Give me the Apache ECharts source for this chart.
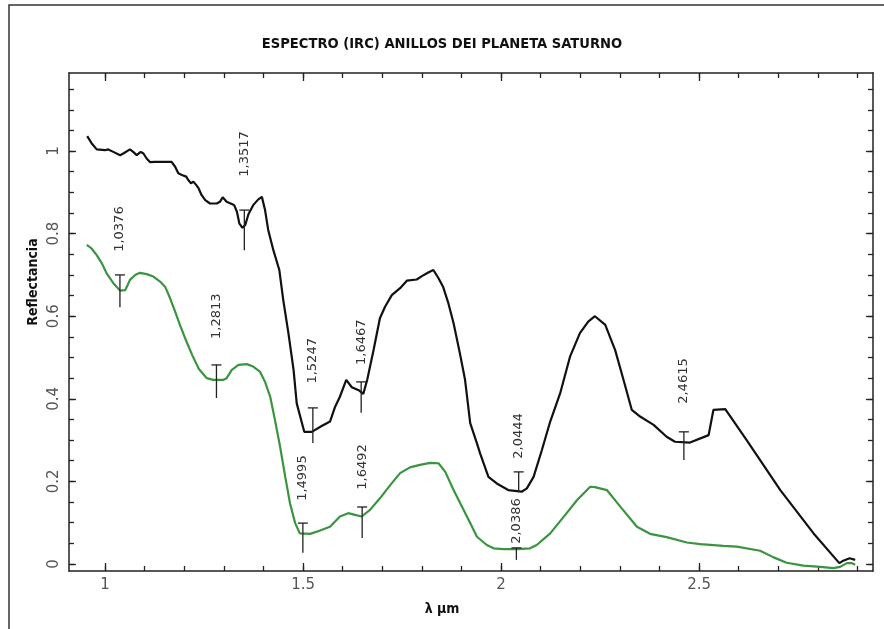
<!DOCTYPE html>
<html>
<head>
<meta charset="utf-8">
<script src="https://cdn.jsdelivr.net/npm/echarts@6/dist/echarts.min.js"></script>
<style>
html,body{margin:0;padding:0;background:#fff;}
#chart{width:884px;height:629px;}
</style>
</head>
<body>
<div id="chart"></div>
<script>
// ---- data ----
const titleText = 'ESPECTRO (IRC) ANILLOS DEI PLANETA SATURNO';
const xName = 'λ µm';
const yName = 'Reflectancia';

const blackWavelength = [0.955,0.966,0.979,1.000,1.008,1.021,1.038,1.046,1.063,1.071,1.080,1.090,1.097,1.105,1.114,1.126,1.168,1.177,1.185,1.194,1.205,1.210,1.217,1.223,1.230,1.236,1.244,1.253,1.265,1.282,1.290,1.297,1.307,1.320,1.326,1.333,1.339,1.347,1.354,1.362,1.374,1.387,1.396,1.404,1.412,1.425,1.440,1.450,1.463,1.476,1.484,1.503,1.522,1.547,1.568,1.581,1.593,1.609,1.623,1.642,1.652,1.662,1.678,1.694,1.707,1.724,1.745,1.762,1.787,1.800,1.816,1.829,1.842,1.854,1.867,1.880,1.896,1.909,1.922,1.939,1.947,1.968,1.989,2.018,2.052,2.065,2.082,2.103,2.124,2.149,2.174,2.199,2.220,2.237,2.263,2.288,2.309,2.330,2.351,2.385,2.418,2.439,2.477,2.524,2.536,2.566,2.570,2.620,2.705,2.789,2.854,2.864,2.880,2.894];
const blackReflect = [1.036,1.019,1.004,1.002,1.004,0.998,0.990,0.994,1.004,0.998,0.990,0.998,0.994,0.982,0.973,0.974,0.974,0.962,0.946,0.942,0.938,0.930,0.922,0.926,0.918,0.910,0.893,0.881,0.873,0.873,0.877,0.888,0.877,0.872,0.869,0.853,0.825,0.814,0.821,0.847,0.869,0.883,0.889,0.857,0.809,0.760,0.712,0.639,0.559,0.470,0.389,0.320,0.320,0.334,0.345,0.381,0.405,0.446,0.428,0.420,0.412,0.446,0.518,0.595,0.623,0.651,0.668,0.686,0.689,0.697,0.706,0.712,0.692,0.670,0.631,0.583,0.510,0.446,0.341,0.292,0.268,0.211,0.195,0.179,0.175,0.183,0.211,0.276,0.345,0.413,0.502,0.559,0.587,0.600,0.579,0.518,0.446,0.373,0.357,0.337,0.308,0.296,0.294,0.312,0.373,0.375,0.373,0.300,0.179,0.074,0.002,0.008,0.014,0.010];

const greenWavelength = [0.954,0.966,0.979,0.992,1.004,1.021,1.038,1.051,1.063,1.076,1.088,1.105,1.122,1.139,1.152,1.164,1.177,1.189,1.205,1.221,1.237,1.257,1.273,1.299,1.307,1.320,1.337,1.358,1.374,1.391,1.404,1.417,1.429,1.442,1.455,1.467,1.480,1.492,1.518,1.543,1.568,1.593,1.614,1.631,1.648,1.669,1.694,1.720,1.745,1.770,1.795,1.821,1.842,1.859,1.880,1.901,1.922,1.939,1.964,1.981,2.006,2.040,2.073,2.090,2.124,2.162,2.192,2.225,2.237,2.267,2.301,2.343,2.376,2.418,2.469,2.503,2.561,2.595,2.654,2.688,2.721,2.763,2.806,2.839,2.856,2.873,2.886,2.894];
const greenReflect = [0.773,0.764,0.748,0.728,0.704,0.680,0.662,0.663,0.688,0.700,0.705,0.702,0.696,0.684,0.671,0.644,0.611,0.579,0.540,0.504,0.472,0.450,0.446,0.446,0.450,0.470,0.482,0.484,0.478,0.466,0.441,0.405,0.349,0.284,0.211,0.147,0.099,0.074,0.073,0.081,0.090,0.115,0.123,0.119,0.115,0.131,0.159,0.191,0.220,0.234,0.240,0.245,0.244,0.223,0.179,0.139,0.099,0.066,0.046,0.038,0.036,0.036,0.038,0.046,0.074,0.119,0.155,0.187,0.186,0.179,0.139,0.090,0.073,0.065,0.052,0.048,0.044,0.042,0.032,0.016,0.003,-0.004,-0.007,-0.010,-0.007,0.002,0.002,-0.002];

// band-minimum annotations
const markerLabels = ['1,0376','1,2813','1,3517','1,4995','1,5247','1,6467','1,6492','2,0386','2,0444','2,4615'];
const markerX      = [1.0376, 1.2813, 1.3517, 1.4995, 1.5247, 1.6467, 1.6492, 2.0386, 2.0444, 2.4615];
const markerTop    = [0.700, 0.482, 0.857, 0.099, 0.378, 0.441, 0.138, 0.039, 0.223, 0.320];
const markerBottom = [0.622, 0.402, 0.760, 0.027, 0.293, 0.366, 0.063, 0.010, 0.174, 0.252];
const markerTextY  = [0.811, 0.600, 0.993, 0.208, 0.492, 0.537, 0.235, 0.104, 0.310, 0.443];

// axes ticks
const xMajorTicks = [1, 1.5, 2, 2.5];
const xMinorTicks = [1.0,1.1,1.2,1.3,1.4,1.5,1.6,1.7,1.8,1.9,2.0,2.1,2.2,2.3,2.4,2.5,2.6,2.7,2.8,2.9];
const yMajorTicks = [0, 0.2, 0.4, 0.6, 0.8, 1];
const yMinorTicks = [0,0.05,0.1,0.15,0.2,0.25,0.3,0.35,0.4,0.45,0.5,0.55,0.6,0.65,0.7,0.75,0.8,0.85,0.9,0.95,1,1.05,1.1,1.15];
const xMin = 0.909, xMax = 2.939, yMin = -0.017, yMax = 1.189;

// ---- chart ----
const chart = echarts.init(document.getElementById('chart'), null, {renderer:'canvas'});
const axisColor = '#222';
const labelFont = {fontFamily:'DejaVu Sans', fontSize:15, color:'#555'};

function xAx(pos, ticks, len, labels, showLine){
  return {type:'value', gridIndex:0, position:pos, min:xMin, max:xMax,
    axisLine:{show:showLine, onZero:false, lineStyle:{color:axisColor, width:1.5}},
    axisTick:{show:true, inside:true, length:len, customValues:ticks, lineStyle:{color:axisColor, width:1.3}},
    axisLabel: labels ? Object.assign({show:true, customValues:labels, margin:7,
        formatter: v => String(v)}, labelFont) : {show:false},
    splitLine:{show:false}};
}
function yAx(pos, ticks, len, labels, showLine){
  return {type:'value', gridIndex:0, position:pos, min:yMin, max:yMax,
    axisLine:{show:showLine, onZero:false, lineStyle:{color:axisColor, width:1.5}},
    axisTick:{show:true, inside:true, length:len, customValues:ticks, lineStyle:{color:axisColor, width:1.3}},
    axisLabel: labels ? Object.assign({show:true, customValues:labels, margin:7, rotate:90,
        formatter: v => String(v)}, labelFont) : {show:false},
    splitLine:{show:false}};
}

const option = {
  backgroundColor:'#fff',
  animation:false,
  title:{text:titleText, left:'center', top:32,
    textStyle:{fontFamily:'DejaVu Sans Condensed, Liberation Sans Narrow, sans-serif', fontWeight:'bold', fontSize:14.6, color:'#111'}},
  grid:{left:69, top:73, right:11, bottom:58, containLabel:false},
  xAxis:[
    xAx('bottom', xMajorTicks, 8, xMajorTicks, true),
    xAx('bottom', xMinorTicks, 5, null, false),
    xAx('top', xMajorTicks, 8, null, true),
    xAx('top', xMinorTicks, 5, null, false)
  ],
  yAxis:[
    yAx('left', yMajorTicks, 7, yMajorTicks, true),
    yAx('left', yMinorTicks, 5, null, false),
    yAx('right', yMajorTicks, 7, null, true),
    yAx('right', yMinorTicks, 5, null, false)
  ],
  graphic:[
    {type:'rect', shape:{x:9, y:5, width:1000, height:1000}, style:{fill:'none', stroke:'#333', lineWidth:1.5}, silent:true, z:-10},
    {type:'text', x:442, y:609, style:{text:xName, align:'center', verticalAlign:'middle',
      font:'bold 14px "DejaVu Sans Condensed", "DejaVu Sans"', fill:'#111'}},
    {type:'text', x:33, y:282, rotation:Math.PI/2, style:{text:yName, align:'center', verticalAlign:'middle',
      font:'bold 14px "DejaVu Sans Condensed", "DejaVu Sans"', fill:'#111'}}
  ],
  series:[
    {type:'line', xAxisIndex:0, yAxisIndex:0, showSymbol:false, symbol:'none',
      data: greenWavelength.map((x,i)=>[x, greenReflect[i]]),
      lineStyle:{color:'#3a9440', width:2.2}, z:2},
    {type:'line', xAxisIndex:0, yAxisIndex:0, showSymbol:false, symbol:'none',
      data: blackWavelength.map((x,i)=>[x, blackReflect[i]]),
      lineStyle:{color:'#111', width:2.2}, z:3},
    {type:'custom', xAxisIndex:0, yAxisIndex:0, z:4,
      data: markerX.map((x,i)=>[x, markerTop[i], markerBottom[i], markerTextY[i]]),
      encode:{x:0, y:[1,2,3]},
      renderItem:function(params, api){
        const x = api.value(0);
        const pT = api.coord([x, api.value(1)]);
        const pB = api.coord([x, api.value(2)]);
        const pL = api.coord([x, api.value(3)]);
        return {type:'group', children:[
          {type:'line', shape:{x1:pT[0], y1:pT[1], x2:pB[0], y2:pB[1]}, style:{stroke:'#222', lineWidth:1.3}},
          {type:'line', shape:{x1:pT[0]-5, y1:pT[1], x2:pT[0]+5, y2:pT[1]}, style:{stroke:'#222', lineWidth:1.3}},
          {type:'text', x:pL[0], y:pL[1], rotation:Math.PI/2,
            style:{text:markerLabels[params.dataIndex], align:'center', verticalAlign:'middle',
              font:'13px "DejaVu Sans"', fill:'#333'}}
        ]};
      }}
  ]
};
chart.setOption(option);
</script>
</body>
</html>
